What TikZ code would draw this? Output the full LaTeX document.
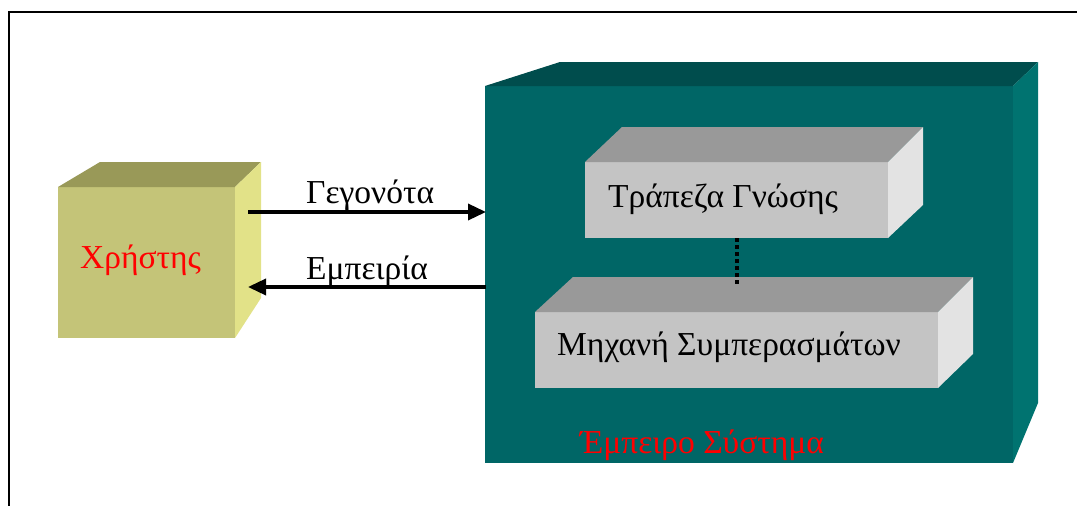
\documentclass[tikz,border=0pt]{standalone}
\usepackage{fontspec}
\setmainfont{Liberation Serif}
\usetikzlibrary{arrows.meta}
\definecolor{olivefront}{HTML}{C4C478}
\definecolor{olivetop}{HTML}{999958}
\definecolor{oliveside}{HTML}{E2E288}
\definecolor{tealfront}{HTML}{006666}
\definecolor{tealtop}{HTML}{004D4D}
\definecolor{tealside}{HTML}{007370}
\definecolor{greyfront}{HTML}{C4C4C4}
\definecolor{greytop}{HTML}{999999}
\definecolor{greyside}{HTML}{E3E3E3}
\tikzset{
  lbl/.style={anchor=base west, inner sep=0pt, font=\fontsize{33.5}{40}\selectfont},
  redlbl/.style={lbl, text=red},
  flowarrow/.style={line width=3.5pt, -{Triangle[length=18pt,width=16pt]}},
  linkdots/.style={line width=4pt, dash pattern=on 4pt off 3pt},
}
\begin{document}
\begin{tikzpicture}[x=1pt,y=-1pt]
\useasboundingbox (0,0) rectangle (1077,506);
\fill[white] (0,0) rectangle (1077,506);
% frame
\draw[line width=2.5pt] (9,530) -- (9,12) -- (1100,12);
% user cube
\fill[olivefront] (58,187) -- (235,187) -- (235,338) -- (58,338) -- cycle;
\fill[olivetop] (58,187) -- (100,162) -- (261,162) -- (235,187) -- cycle;
\fill[oliveside] (235,187) -- (261,162) -- (261,298) -- (235,338) -- cycle;
\node[redlbl] (user) at (80,268) {Χρήστης};
% expert system box
\fill[tealfront] (485,86) -- (1013,86) -- (1013,463) -- (485,463) -- cycle;
\fill[tealtop] (485,86) -- (560,62) -- (1038,62) -- (1013,86) -- cycle;
\fill[tealside] (1013,86) -- (1038,62) -- (1038,403) -- (1013,463) -- cycle;
\node[redlbl] (es) at (580,453) {Έμπειρο Σύστημα};
% knowledge base
\fill[greyfront] (585,162) -- (888,162) -- (888,238) -- (585,238) -- cycle;
\fill[greytop] (585,162) -- (622,127) -- (923,127) -- (888,162) -- cycle;
\fill[greyside] (888,162) -- (923,127) -- (923,205) -- (888,238) -- cycle;
\node[lbl] (kb) at (608,207) {Τράπεζα Γνώσης};
% inference engine
\fill[greyfront] (535,312) -- (938,312) -- (938,388) -- (535,388) -- cycle;
\fill[greytop] (535,312) -- (573,277) -- (973,277) -- (938,312) -- cycle;
\fill[greyside] (938,312) -- (973,277) -- (973,354) -- (938,388) -- cycle;
\node[lbl] (ie) at (557,355) {Μηχανή Συμπερασμάτων};
% connectors
\coordinate (userout) at (248,212);
\coordinate (esin) at (486,212);
\coordinate (esout) at (486,287);
\coordinate (userin) at (248,287);
\coordinate (kbbottom) at (737,238);
\coordinate (ietop) at (737,285);
\draw[flowarrow] (userout) -- (esin);
\draw[flowarrow] (esout) -- (userin);
\draw[linkdots] (kbbottom) -- (ietop);
\node[lbl] (facts) at (306,203) {Γεγονότα};
\node[lbl] (exp) at (306,279) {Εμπειρία};
\end{tikzpicture}
\end{document}
